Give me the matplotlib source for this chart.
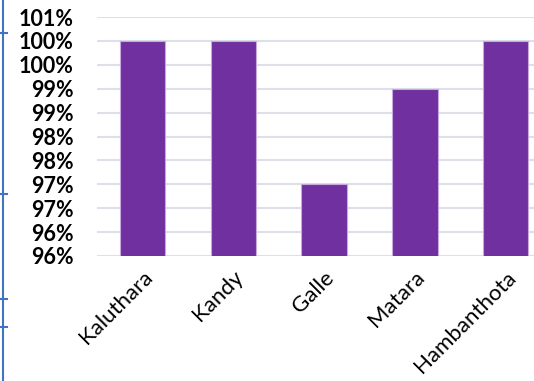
import matplotlib.pyplot as plt
from matplotlib.lines import Line2D
from matplotlib.ticker import FuncFormatter, MultipleLocator

districts = ['Kaluthara', 'Kandy', 'Galle', 'Matara', 'Hambanthota']
pass_rate = [100, 100, 97, 99, 100]

plt.rcParams['font.family'] = ['Lato', 'DejaVu Sans']

fig = plt.figure(figsize=(5.34, 3.81), dpi=100)
ax = fig.add_axes([97 / 534, 125 / 381, 454 / 534, 239 / 381])

ax.bar(range(len(districts)), pass_rate, width=0.5, color='#7030A0',
       edgecolor='#C9A8E0', linewidth=0.8, zorder=3)

ax.set_xlim(-0.5, len(districts) - 0.5)
ax.set_ylim(95.5, 100.5)
ax.yaxis.set_major_locator(MultipleLocator(0.5))
ax.yaxis.set_major_formatter(FuncFormatter(lambda v, p: '%d%%' % int(v + 0.5)))
ax.grid(axis='y', color='#DDE0E8', linewidth=1.5, zorder=0)

ax.set_xticks(range(len(districts)))
ax.set_xticklabels(districts, rotation=45, ha='right', rotation_mode='anchor', fontsize=16)
for lbl in ax.get_yticklabels():
    lbl.set_fontweight('bold')
    lbl.set_fontsize(15.5)
ax.tick_params(length=0)
ax.tick_params(axis='y', pad=17)
ax.tick_params(axis='x', pad=8)
for s in ax.spines.values():
    s.set_visible(False)

# blue selection border on the left edge
fig.add_artist(Line2D([3 / 534, 3 / 534], [0, 1], color='#4472C4', linewidth=1.5))
for yy in [33, 194, 299, 327]:
    fig.add_artist(Line2D([0, 7 / 534], [1 - yy / 381, 1 - yy / 381], color='#4472C4', linewidth=1.5))

fig.savefig('out.png', dpi=100)
